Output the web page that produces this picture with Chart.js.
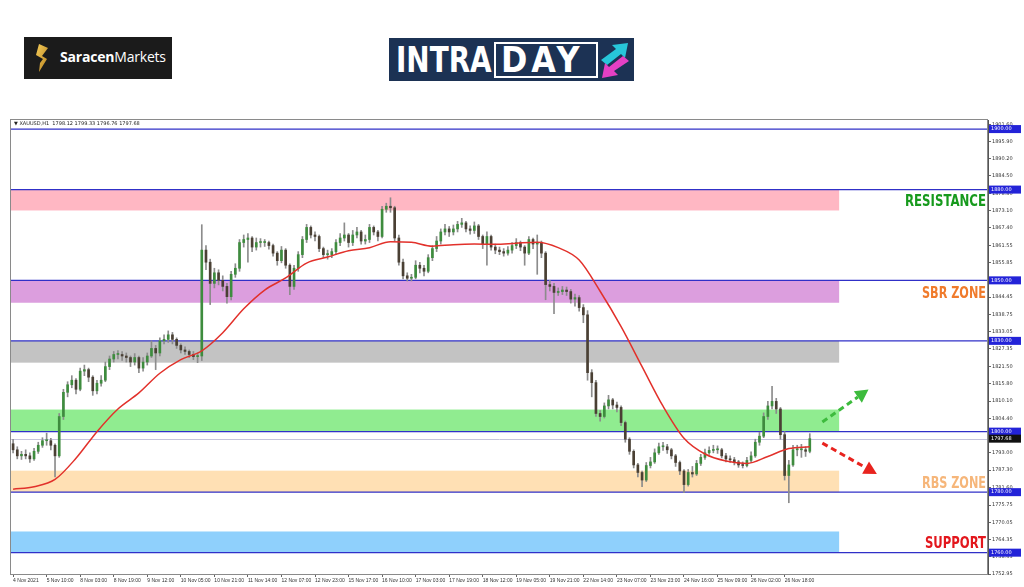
<!DOCTYPE html>
<html>
<head>
<meta charset="utf-8">
<script src="https://cdn.jsdelivr.net/npm/chart.js@4.4.1/dist/chart.umd.min.js"></script>
<style>
  html, body { margin: 0; padding: 0; background: #fff; }
  body { width: 1024px; height: 587px; position: relative; overflow: hidden; font-family: "Open Sans", sans-serif; }
  #chart { position: absolute; left: 0; top: 0; }
  .saracen { position: absolute; left: 24px; top: 37px; width: 148px; height: 42px; background: #1b1b1b; }
  .saracen svg { position: absolute; left: 8px; top: 5px; }
  .saracen .name { position: absolute; left: 36px; top: 11px; color: #fff; font-size: 14px; line-height: 18px; letter-spacing: -0.2px; }
  .saracen .name b { font-weight: 700; }
  .intraday { position: absolute; left: 389px; top: 38px; width: 245px; height: 43px; background: #1c3254; }
  .intraday .txt { position: absolute; color: #fff; font-family: "DejaVu Sans Condensed", "DejaVu Sans", sans-serif; font-stretch: condensed; font-weight: bold; font-size: 36px; line-height: 36px; white-space: nowrap; transform-origin: 0 0; }
  .intraday .intra { left: 7px; top: 4px; transform: scaleX(0.86); }
  .intraday .daybox { position: absolute; left: 105px; top: 4px; width: 100px; height: 32px; border: 2px solid #fff; }
  .intraday .day { left: 5px; top: -2px; letter-spacing: 4px; transform: scaleX(0.98); }
  .intraday svg { position: absolute; left: 209px; top: 2px; }
</style>
</head>
<body>
<canvas id="chart" width="1024" height="587"></canvas>

<div class="saracen">
  <svg width="26" height="32" viewBox="0 0 26 32">
    <defs>
      <linearGradient id="gold" x1="0" y1="0" x2="1" y2="1">
        <stop offset="0" stop-color="#f5cd5a"/>
        <stop offset="1" stop-color="#b7811e"/>
      </linearGradient>
    </defs>
    <polygon points="7,2 16,6 10,14 15,17 7,30 8,21 11,17 4,13" fill="url(#gold)"/>
  </svg>
  <div class="name"><b>Saracen</b>Markets</div>
</div>

<div class="intraday">
  <div class="txt intra">INTRA</div>
  <div class="daybox"><div class="txt day">DAY</div></div>
  <svg width="34" height="40" viewBox="0 0 34 40">
    <polygon points="3,20 18,9 14,5 30,3 27,18 23,14 9,25" fill="#27c6d9"/>
    <polygon points="31,21 16,31 20,35 4,38 7,23 11,27 25,16" fill="#e540c4"/>
  </svg>
</div>

<script>
// candle data (2 hour bars), XAUUSD
const firstOpen = 1796;
const closes = [
  1794, 1792, 1792.5, 1792, 1791, 1793.5, 1795.5, 1797, 1797, 1795.5,
  1792, 1805, 1813, 1815.5, 1817, 1814, 1820, 1820.5, 1818, 1813.5,
  1816, 1817, 1821.5, 1824, 1825.5, 1825.5, 1825, 1824.5, 1823, 1824.5,
  1821, 1823, 1825, 1827.5, 1826, 1830, 1830.5, 1832, 1830.5, 1828.5,
  1827, 1826.5, 1825.5, 1824.8, 1825, 1860, 1856, 1849, 1852.5, 1850,
  1848, 1844.6, 1852, 1854, 1862.5, 1863.5, 1864, 1861, 1862.5, 1862.5,
  1862.5, 1861.5, 1859, 1856.5, 1860, 1855, 1848, 1854, 1858.5, 1863.5,
  1867.5, 1865, 1864.5, 1860.5, 1858.5, 1858.5, 1859.5, 1862.5, 1864, 1865,
  1862.5, 1865, 1866, 1863, 1863.5, 1867.5, 1866, 1864.5, 1873.5, 1874.5,
  1874, 1864, 1856, 1851.5, 1850.7, 1851, 1855, 1854, 1853, 1857.5,
  1860.5, 1863, 1866, 1867, 1866, 1867, 1868.5, 1869, 1867, 1866.5,
  1868, 1864.5, 1862, 1864.5, 1861, 1860, 1859.5, 1859, 1860, 1861.5,
  1862.5, 1861, 1859, 1863.5, 1862, 1862.5, 1859, 1848.6, 1848, 1846,
  1846.3, 1846.8, 1846.3, 1843.8, 1844.3, 1841, 1838.6, 1819.5, 1816.2, 1806,
  1805, 1808.5, 1810.5, 1808.8, 1808, 1803, 1797.5, 1793.5, 1789, 1786.5,
  1784, 1788.8, 1790, 1793, 1795, 1795, 1794, 1792, 1789.8, 1787,
  1782.5, 1786.5, 1786, 1789.5, 1791.5, 1793, 1793.8, 1794, 1794, 1792,
  1791, 1790.7, 1790, 1789, 1788.8, 1790.5, 1792, 1796.5, 1798.5, 1805,
  1808.5, 1810, 1807.5, 1799, 1785.5, 1789, 1794, 1794, 1794, 1793.5,
  1797.68
];
const highs = [
  1797.5, 1795, 1793.5, 1794, 1793, 1794.5, 1796.5, 1798, 1799.5, 1797.8,
  1796, 1806, 1814, 1816.5, 1818.5, 1817.5, 1821, 1822, 1821, 1818.5,
  1817, 1818.5, 1823, 1825, 1826.5, 1826.8, 1826.5, 1826, 1825, 1825.8,
  1825, 1824.5, 1826, 1830, 1828.5, 1831, 1832, 1833.3, 1832.8, 1831,
  1829, 1828, 1827, 1826.5, 1826, 1868.4, 1861.5, 1857, 1854, 1853.5,
  1851.5, 1849, 1853, 1855.5, 1863.5, 1865, 1865.5, 1864.5, 1864, 1863.8,
  1863.5, 1863, 1862, 1859.5, 1861.2, 1860.5, 1855.5, 1855, 1859.5, 1864.5,
  1868.5, 1868, 1866, 1865, 1861, 1860, 1860.5, 1863.5, 1865.5, 1869,
  1865.5, 1866.5, 1867.5, 1866.5, 1865, 1868.5, 1868, 1866.5, 1874.5, 1875.5,
  1877.3, 1874.5, 1865, 1857, 1852.5, 1852, 1856.5, 1856, 1855, 1858.5,
  1861.5, 1864.5, 1867, 1868.5, 1867.8, 1868.3, 1869.5, 1870.5, 1869.5, 1868,
  1869.3, 1868.5, 1865, 1866, 1865, 1862, 1861, 1860.5, 1861.2, 1862.5,
  1863.8, 1863, 1861.5, 1864.5, 1864, 1865, 1863, 1859.5, 1850, 1849,
  1847.5, 1848, 1847.8, 1847, 1845.5, 1845, 1842, 1840, 1820.5, 1817,
  1807, 1809.5, 1812, 1811, 1809.8, 1808.5, 1803.5, 1798, 1794, 1789.5,
  1787, 1789.8, 1791.5, 1794.3, 1796.2, 1796.5, 1795.8, 1794.5, 1792.5, 1790.3,
  1787.5, 1787.5, 1788.5, 1790.5, 1792.5, 1794.2, 1795, 1795.5, 1795.3, 1794.5,
  1792.8, 1792, 1791.5, 1790.5, 1790, 1791.5, 1793.3, 1797.5, 1799.8, 1806.2,
  1810, 1815, 1811, 1808, 1800, 1790.5, 1795.5, 1795.5, 1795.8, 1795,
  1799.33
];
const lows = [
  1793, 1791, 1790.8, 1791, 1789.8, 1790.5, 1792.8, 1794.8, 1795.5, 1794,
  1785, 1791.5, 1804, 1811.5, 1814.5, 1812.5, 1813.5, 1818.5, 1816.5, 1812,
  1812.5, 1815, 1816.5, 1820.5, 1823, 1824, 1823.5, 1823, 1821.5, 1822,
  1819.5, 1820, 1822, 1824.5, 1820.5, 1825, 1829, 1829.5, 1829, 1827.5,
  1826, 1825.5, 1824.5, 1823.8, 1822.8, 1823.5, 1853.5, 1842, 1847.5, 1848.5,
  1846.5, 1842.5, 1843.5, 1851, 1853, 1861, 1856, 1859.5, 1860, 1861,
  1861.2, 1860.3, 1858, 1855, 1855.8, 1854, 1845.3, 1847, 1853, 1857.5,
  1862.5, 1864, 1863, 1859.5, 1857.5, 1857, 1857.5, 1858.5, 1861.5, 1863,
  1861, 1861.5, 1864, 1862, 1862, 1862.5, 1865, 1863, 1864, 1872.5,
  1872.5, 1863, 1855, 1850.5, 1849.8, 1849.8, 1850.5, 1852.5, 1851.5, 1852.5,
  1856.5, 1859.5, 1862, 1865, 1864.5, 1865, 1866, 1867.5, 1866, 1865.3,
  1865.5, 1863.5, 1860.5, 1855, 1860, 1858.8, 1858.5, 1858, 1858.3, 1859,
  1860.5, 1859.8, 1855, 1858.5, 1860.5, 1852, 1857.5, 1843.6, 1846.5, 1839,
  1845, 1845.3, 1845, 1842.5, 1841.5, 1839.8, 1836, 1817, 1811.5, 1805,
  1803.5, 1804.5, 1807.5, 1807.5, 1806.5, 1802, 1796.5, 1792.5, 1788, 1785,
  1781.8, 1783.5, 1788, 1789.5, 1792.5, 1793.8, 1792.8, 1791, 1788.5, 1785.8,
  1779.8, 1782, 1785, 1785.5, 1788.8, 1790.8, 1792.5, 1793, 1792.8, 1791.3,
  1790, 1789.8, 1789, 1788.2, 1788, 1788.3, 1789.8, 1791.5, 1795.5, 1798,
  1804, 1807.5, 1806, 1797.5, 1784, 1776.5, 1788.5, 1792, 1791.5, 1791.8,
  1793
];
// moving average, one value every 5 bars
const maEvery = 5;
const maValues = [
  1781, 1781.8, 1784.2, 1791.2, 1800, 1807.5, 1812.8, 1819.3, 1823.8, 1826.7,
  1832.7, 1840.6, 1846.8, 1850.8, 1855.7, 1857.7, 1859.8, 1860.8, 1862.8, 1862.6,
  1861.3, 1861.8, 1862, 1861.9, 1862.3, 1862.6, 1860.8, 1856.7, 1846.4, 1834.7,
  1821.5, 1808.4, 1797.8, 1792.6, 1790.3, 1789.5, 1791.8, 1794.4, 1795
];

// axis labels
const tickEvery = 8;
const xTickLabels = [
  "4 Nov 2021", "5 Nov 10:00", "8 Nov 03:00", "8 Nov 19:00", "9 Nov 12:00", "10 Nov 05:00",
  "10 Nov 21:00", "11 Nov 14:00", "12 Nov 07:00", "12 Nov 23:00", "15 Nov 17:00", "16 Nov 10:00",
  "17 Nov 03:00", "17 Nov 19:00", "18 Nov 12:00", "19 Nov 05:00", "19 Nov 21:00", "22 Nov 14:00",
  "23 Nov 07:00", "23 Nov 23:00", "24 Nov 16:00", "25 Nov 09:00", "26 Nov 02:00", "26 Nov 18:00"
];
const yTicks = [
  1901.60, 1895.90, 1890.20, 1884.50, 1878.80, 1873.10, 1867.40, 1861.55, 1855.85,
  1844.45, 1838.75, 1833.05, 1827.35, 1821.50, 1815.80, 1810.10, 1804.40,
  1793.00, 1787.30, 1781.60, 1775.75, 1770.05, 1764.35, 1758.65, 1752.95
];

// levels and zones
const levels = [1900, 1880, 1850, 1830, 1800, 1780, 1760];
const lastPrice = 1797.68;
const zoneTop = [1880, 1850, 1830, 1807.3, 1787.1, 1767];
const zoneBottom = [1873.1, 1842.6, 1822.8, 1800, 1780, 1760];
const zoneColors = ["#ffb7c3", "#dc9ede", "#c3c3c3", "#90ec90", "#ffe0b4", "#8fd0fc"];
const zoneNames = ["RESISTANCE", "SBR ZONE", "", "", "RBS ZONE", "SUPPORT"];
const zoneTextColors = ["#179a1d", "#f07b2c", "", "", "#f6b67a", "#e3171d"];
const zoneTextWidth = [81, 64, 0, 0, 64, 61];
const zoneEndBar = 197;

// arrows: [bar, price]
const arrowFrom = [[193, 1803.2], [193, 1796.2]];
const arrowTo = [[204, 1813.9], [206, 1786.0]];
const arrowColors = ["#3dbb3d", "#e8231e"];

const SLOTS = 233;
const slotLabels = Array.from({ length: SLOTS }, (_, i) => i);
const opens = closes.map((c, i) => i === 0 ? firstOpen : closes[i - 1]);
const maData = slotLabels.map(i => (i % maEvery === 0 && maValues[i / maEvery] !== undefined) ? maValues[i / maEvery] : null);

const overlay = {
  id: "overlay",
  beforeDatasetsDraw(chart) {
    const { ctx, chartArea: a, scales: { x, y } } = chart;
    ctx.save();
    const xEnd = x.getPixelForValue(zoneEndBar);
    zoneTop.forEach((t, i) => {
      const y1 = y.getPixelForValue(t), y2 = y.getPixelForValue(zoneBottom[i]);
      ctx.fillStyle = zoneColors[i];
      ctx.fillRect(a.left, y1, xEnd - a.left, y2 - y1);
    });
    // last price line
    ctx.strokeStyle = "#c4c4dc";
    ctx.lineWidth = 1;
    const yl = Math.round(y.getPixelForValue(lastPrice)) + 0.5;
    ctx.beginPath(); ctx.moveTo(a.left, yl); ctx.lineTo(a.right, yl); ctx.stroke();
    // level lines
    ctx.strokeStyle = "#3030c8";
    ctx.lineWidth = 1.4;
    levels.forEach(v => {
      const yy = y.getPixelForValue(v);
      ctx.beginPath(); ctx.moveTo(a.left, yy); ctx.lineTo(a.right, yy); ctx.stroke();
    });
    ctx.restore();
  },
  afterDraw(chart) {
    const { ctx, chartArea: a, scales: { x, y } } = chart;
    ctx.save();
    // frame
    ctx.strokeStyle = "#8a8a8a";
    ctx.lineWidth = 1;
    ctx.strokeRect(a.left - 0.5, a.top - 0.5, a.right - a.left, a.bottom - a.top + 1);

    // header
    ctx.fillStyle = "#222";
    ctx.font = "5px 'DejaVu Sans'";
    ctx.textBaseline = "middle";
    ctx.textAlign = "left";
    ctx.fillText("\u25BC XAUUSD,H1  1798.12 1799.33 1796.76 1797.68", a.left + 3, a.top + 4);

    // zone labels
    ctx.font = "bold condensed 16px 'DejaVu Sans'";
    ctx.textAlign = "right";
    zoneNames.forEach((n, i) => {
      if (!n) return;
      const yc = (y.getPixelForValue(zoneTop[i]) + y.getPixelForValue(zoneBottom[i])) / 2 + 2;
      ctx.fillStyle = zoneTextColors[i];
      ctx.fillText(n, a.right - 2, yc, zoneTextWidth[i]);
    });

    // arrows
    arrowFrom.forEach((f, i) => {
      const x1 = x.getPixelForValue(f[0]), y1 = y.getPixelForValue(f[1]);
      const x2 = x.getPixelForValue(arrowTo[i][0]), y2 = y.getPixelForValue(arrowTo[i][1]);
      const ang = Math.atan2(y2 - y1, x2 - x1);
      const head = 13;
      const bx = x2 - Math.cos(ang) * head, by = y2 - Math.sin(ang) * head;
      ctx.strokeStyle = arrowColors[i];
      ctx.fillStyle = arrowColors[i];
      ctx.lineWidth = 3;
      ctx.setLineDash([6, 4]);
      ctx.beginPath(); ctx.moveTo(x1, y1); ctx.lineTo(bx, by); ctx.stroke();
      ctx.setLineDash([]);
      ctx.beginPath();
      ctx.moveTo(x2, y2);
      ctx.lineTo(bx + Math.sin(ang) * 7, by - Math.cos(ang) * 7);
      ctx.lineTo(bx - Math.sin(ang) * 7, by + Math.cos(ang) * 7);
      ctx.closePath();
      ctx.fill();
    });

    // price boxes on the axis
    ctx.font = "5px 'DejaVu Sans'";
    ctx.textAlign = "left";
    const box = (v, bg) => {
      const yy = y.getPixelForValue(v);
      ctx.fillStyle = bg;
      ctx.fillRect(a.right + 1, yy - 4, 32, 8);
      ctx.fillStyle = "#fff";
      ctx.fillText(v.toFixed(2), a.right + 3, yy);
    };
    levels.forEach(v => box(v, "#2323d8"));
    box(lastPrice, "#111");
    ctx.restore();
  }
};

const ctx = document.getElementById("chart").getContext("2d");
const chart = new Chart(ctx, {
  type: "bar",
  data: {
    labels: slotLabels,
    datasets: [
      {
        type: "line",
        label: "MA",
        data: maData,
        borderColor: "#e2312b",
        borderWidth: 1.5,
        pointRadius: 0,
        spanGaps: true,
        cubicInterpolationMode: "monotone",
        order: 0
      },
      {
        label: "Body",
        data: opens.map((o, i) => [o, closes[i]]),
        backgroundColor: opens.map((o, i) => closes[i] >= o ? "#3e8c3e" : "#4a4034"),
        barThickness: 2,
        minBarLength: 1,
        grouped: false,
        order: 1
      },
      {
        label: "Wick",
        data: lows.map((l, i) => [l, highs[i]]),
        backgroundColor: "#8c8c8c",
        barThickness: 1,
        grouped: false,
        order: 2
      }
    ]
  },
  options: {
    responsive: false,
    animation: false,
    layout: { padding: { left: 11, top: 120, right: 0, bottom: 0 } },
    plugins: { legend: { display: false }, tooltip: { enabled: false } },
    scales: {
      x: {
        type: "category",
        offset: true,
        grid: { drawOnChartArea: false, offset: false, tickLength: 3, color: "#666" },
        border: { color: "#777" },
        afterBuildTicks: s => { s.ticks = s.ticks.filter(t => t.value % tickEvery === 0 && t.value / tickEvery < xTickLabels.length); },
        afterFit: s => { s.height = 13; },
        ticks: {
          autoSkip: false,
          maxRotation: 0,
          align: "start",
          padding: 1,
          color: "#333",
          font: { size: 5, family: "Liberation Sans" },
          callback: v => xTickLabels[v / tickEvery] || ""
        }
      },
      y: {
        type: "linear",
        position: "right",
        min: 1752.95,
        max: 1903,
        grid: { drawOnChartArea: false, tickLength: 3, color: "#666" },
        border: { color: "#555" },
        afterBuildTicks: s => { s.ticks = yTicks.map(v => ({ value: v })); },
        afterFit: s => { s.width = 36; },
        ticks: {
          padding: 1,
          color: "#333",
          font: { size: 5, family: "DejaVu Sans" },
          callback: v => v.toFixed(2)
        }
      }
    }
  },
  plugins: [overlay]
});
</script>
</body>
</html>
